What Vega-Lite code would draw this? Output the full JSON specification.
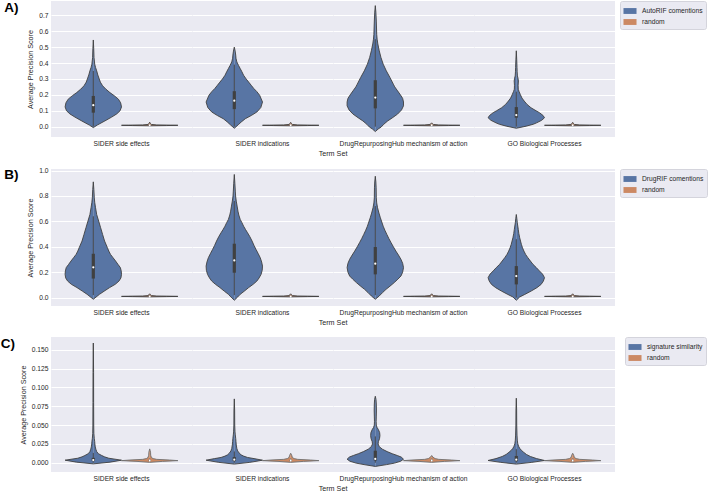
{
"$schema":"https://vega.github.io/schema/vega-lite/v6.json",
"padding":{"left":0,"top":0,"right":0,"bottom":0},
"spacing":9,
"datasets":{"rows":[
{"p":"A","k":"s","t":"SIDER side effects","g":"AutoRIF comentions","v":-0.006,"w":0},
{"p":"A","k":"s","t":"SIDER side effects","g":"AutoRIF comentions","v":0.01,"w":0.14},
{"p":"A","k":"s","t":"SIDER side effects","g":"AutoRIF comentions","v":0.036,"w":0.41},
{"p":"A","k":"s","t":"SIDER side effects","g":"AutoRIF comentions","v":0.06,"w":0.65},
{"p":"A","k":"s","t":"SIDER side effects","g":"AutoRIF comentions","v":0.08,"w":0.83},
{"p":"A","k":"s","t":"SIDER side effects","g":"AutoRIF comentions","v":0.1,"w":0.95},
{"p":"A","k":"s","t":"SIDER side effects","g":"AutoRIF comentions","v":0.124,"w":1.0},
{"p":"A","k":"s","t":"SIDER side effects","g":"AutoRIF comentions","v":0.15,"w":0.97},
{"p":"A","k":"s","t":"SIDER side effects","g":"AutoRIF comentions","v":0.173,"w":0.89},
{"p":"A","k":"s","t":"SIDER side effects","g":"AutoRIF comentions","v":0.195,"w":0.74},
{"p":"A","k":"s","t":"SIDER side effects","g":"AutoRIF comentions","v":0.214,"w":0.59},
{"p":"A","k":"s","t":"SIDER side effects","g":"AutoRIF comentions","v":0.235,"w":0.45},
{"p":"A","k":"s","t":"SIDER side effects","g":"AutoRIF comentions","v":0.257,"w":0.33},
{"p":"A","k":"s","t":"SIDER side effects","g":"AutoRIF comentions","v":0.28,"w":0.25},
{"p":"A","k":"s","t":"SIDER side effects","g":"AutoRIF comentions","v":0.3,"w":0.21},
{"p":"A","k":"s","t":"SIDER side effects","g":"AutoRIF comentions","v":0.325,"w":0.16},
{"p":"A","k":"s","t":"SIDER side effects","g":"AutoRIF comentions","v":0.351,"w":0.12},
{"p":"A","k":"s","t":"SIDER side effects","g":"AutoRIF comentions","v":0.372,"w":0.08},
{"p":"A","k":"s","t":"SIDER side effects","g":"AutoRIF comentions","v":0.393,"w":0.05},
{"p":"A","k":"s","t":"SIDER side effects","g":"AutoRIF comentions","v":0.435,"w":0.025},
{"p":"A","k":"s","t":"SIDER side effects","g":"AutoRIF comentions","v":0.49,"w":0.015},
{"p":"A","k":"s","t":"SIDER side effects","g":"AutoRIF comentions","v":0.545,"w":0},
{"p":"A","k":"s","t":"SIDER indications","g":"AutoRIF comentions","v":-0.01,"w":0},
{"p":"A","k":"s","t":"SIDER indications","g":"AutoRIF comentions","v":0.012,"w":0.14},
{"p":"A","k":"s","t":"SIDER indications","g":"AutoRIF comentions","v":0.03,"w":0.25},
{"p":"A","k":"s","t":"SIDER indications","g":"AutoRIF comentions","v":0.05,"w":0.39},
{"p":"A","k":"s","t":"SIDER indications","g":"AutoRIF comentions","v":0.07,"w":0.6},
{"p":"A","k":"s","t":"SIDER indications","g":"AutoRIF comentions","v":0.092,"w":0.8},
{"p":"A","k":"s","t":"SIDER indications","g":"AutoRIF comentions","v":0.12,"w":0.94},
{"p":"A","k":"s","t":"SIDER indications","g":"AutoRIF comentions","v":0.155,"w":1.0},
{"p":"A","k":"s","t":"SIDER indications","g":"AutoRIF comentions","v":0.197,"w":0.9},
{"p":"A","k":"s","t":"SIDER indications","g":"AutoRIF comentions","v":0.22,"w":0.8},
{"p":"A","k":"s","t":"SIDER indications","g":"AutoRIF comentions","v":0.24,"w":0.69},
{"p":"A","k":"s","t":"SIDER indications","g":"AutoRIF comentions","v":0.26,"w":0.6},
{"p":"A","k":"s","t":"SIDER indications","g":"AutoRIF comentions","v":0.28,"w":0.51},
{"p":"A","k":"s","t":"SIDER indications","g":"AutoRIF comentions","v":0.3,"w":0.42},
{"p":"A","k":"s","t":"SIDER indications","g":"AutoRIF comentions","v":0.323,"w":0.33},
{"p":"A","k":"s","t":"SIDER indications","g":"AutoRIF comentions","v":0.345,"w":0.27},
{"p":"A","k":"s","t":"SIDER indications","g":"AutoRIF comentions","v":0.365,"w":0.21},
{"p":"A","k":"s","t":"SIDER indications","g":"AutoRIF comentions","v":0.385,"w":0.15},
{"p":"A","k":"s","t":"SIDER indications","g":"AutoRIF comentions","v":0.407,"w":0.09},
{"p":"A","k":"s","t":"SIDER indications","g":"AutoRIF comentions","v":0.43,"w":0.06},
{"p":"A","k":"s","t":"SIDER indications","g":"AutoRIF comentions","v":0.45,"w":0.05},
{"p":"A","k":"s","t":"SIDER indications","g":"AutoRIF comentions","v":0.475,"w":0.03},
{"p":"A","k":"s","t":"SIDER indications","g":"AutoRIF comentions","v":0.5,"w":0},
{"p":"A","k":"s","t":"DrugRepurposingHub mechanism of action","g":"AutoRIF comentions","v":-0.031,"w":0},
{"p":"A","k":"s","t":"DrugRepurposingHub mechanism of action","g":"AutoRIF comentions","v":-0.015,"w":0.1},
{"p":"A","k":"s","t":"DrugRepurposingHub mechanism of action","g":"AutoRIF comentions","v":-0.002,"w":0.21},
{"p":"A","k":"s","t":"DrugRepurposingHub mechanism of action","g":"AutoRIF comentions","v":0.015,"w":0.3},
{"p":"A","k":"s","t":"DrugRepurposingHub mechanism of action","g":"AutoRIF comentions","v":0.036,"w":0.44},
{"p":"A","k":"s","t":"DrugRepurposingHub mechanism of action","g":"AutoRIF comentions","v":0.055,"w":0.6},
{"p":"A","k":"s","t":"DrugRepurposingHub mechanism of action","g":"AutoRIF comentions","v":0.079,"w":0.79},
{"p":"A","k":"s","t":"DrugRepurposingHub mechanism of action","g":"AutoRIF comentions","v":0.105,"w":0.93},
{"p":"A","k":"s","t":"DrugRepurposingHub mechanism of action","g":"AutoRIF comentions","v":0.131,"w":1.0},
{"p":"A","k":"s","t":"DrugRepurposingHub mechanism of action","g":"AutoRIF comentions","v":0.155,"w":1.0},
{"p":"A","k":"s","t":"DrugRepurposingHub mechanism of action","g":"AutoRIF comentions","v":0.178,"w":0.97},
{"p":"A","k":"s","t":"DrugRepurposingHub mechanism of action","g":"AutoRIF comentions","v":0.2,"w":0.89},
{"p":"A","k":"s","t":"DrugRepurposingHub mechanism of action","g":"AutoRIF comentions","v":0.225,"w":0.79},
{"p":"A","k":"s","t":"DrugRepurposingHub mechanism of action","g":"AutoRIF comentions","v":0.25,"w":0.69},
{"p":"A","k":"s","t":"DrugRepurposingHub mechanism of action","g":"AutoRIF comentions","v":0.267,"w":0.64},
{"p":"A","k":"s","t":"DrugRepurposingHub mechanism of action","g":"AutoRIF comentions","v":0.309,"w":0.52},
{"p":"A","k":"s","t":"DrugRepurposingHub mechanism of action","g":"AutoRIF comentions","v":0.351,"w":0.39},
{"p":"A","k":"s","t":"DrugRepurposingHub mechanism of action","g":"AutoRIF comentions","v":0.393,"w":0.28},
{"p":"A","k":"s","t":"DrugRepurposingHub mechanism of action","g":"AutoRIF comentions","v":0.435,"w":0.2},
{"p":"A","k":"s","t":"DrugRepurposingHub mechanism of action","g":"AutoRIF comentions","v":0.477,"w":0.14},
{"p":"A","k":"s","t":"DrugRepurposingHub mechanism of action","g":"AutoRIF comentions","v":0.52,"w":0.09},
{"p":"A","k":"s","t":"DrugRepurposingHub mechanism of action","g":"AutoRIF comentions","v":0.55,"w":0.065},
{"p":"A","k":"s","t":"DrugRepurposingHub mechanism of action","g":"AutoRIF comentions","v":0.58,"w":0.05},
{"p":"A","k":"s","t":"DrugRepurposingHub mechanism of action","g":"AutoRIF comentions","v":0.664,"w":0.035},
{"p":"A","k":"s","t":"DrugRepurposingHub mechanism of action","g":"AutoRIF comentions","v":0.72,"w":0.02},
{"p":"A","k":"s","t":"DrugRepurposingHub mechanism of action","g":"AutoRIF comentions","v":0.761,"w":0},
{"p":"A","k":"s","t":"GO Biological Processes","g":"AutoRIF comentions","v":-0.01,"w":0},
{"p":"A","k":"s","t":"GO Biological Processes","g":"AutoRIF comentions","v":0.003,"w":0.35},
{"p":"A","k":"s","t":"GO Biological Processes","g":"AutoRIF comentions","v":0.015,"w":0.6},
{"p":"A","k":"s","t":"GO Biological Processes","g":"AutoRIF comentions","v":0.024,"w":0.72},
{"p":"A","k":"s","t":"GO Biological Processes","g":"AutoRIF comentions","v":0.04,"w":0.9},
{"p":"A","k":"s","t":"GO Biological Processes","g":"AutoRIF comentions","v":0.056,"w":1.0},
{"p":"A","k":"s","t":"GO Biological Processes","g":"AutoRIF comentions","v":0.07,"w":0.95},
{"p":"A","k":"s","t":"GO Biological Processes","g":"AutoRIF comentions","v":0.088,"w":0.82},
{"p":"A","k":"s","t":"GO Biological Processes","g":"AutoRIF comentions","v":0.1,"w":0.7},
{"p":"A","k":"s","t":"GO Biological Processes","g":"AutoRIF comentions","v":0.119,"w":0.52},
{"p":"A","k":"s","t":"GO Biological Processes","g":"AutoRIF comentions","v":0.14,"w":0.38},
{"p":"A","k":"s","t":"GO Biological Processes","g":"AutoRIF comentions","v":0.161,"w":0.28},
{"p":"A","k":"s","t":"GO Biological Processes","g":"AutoRIF comentions","v":0.18,"w":0.2},
{"p":"A","k":"s","t":"GO Biological Processes","g":"AutoRIF comentions","v":0.203,"w":0.14},
{"p":"A","k":"s","t":"GO Biological Processes","g":"AutoRIF comentions","v":0.22,"w":0.1},
{"p":"A","k":"s","t":"GO Biological Processes","g":"AutoRIF comentions","v":0.235,"w":0.07},
{"p":"A","k":"s","t":"GO Biological Processes","g":"AutoRIF comentions","v":0.26,"w":0.065},
{"p":"A","k":"s","t":"GO Biological Processes","g":"AutoRIF comentions","v":0.287,"w":0.075},
{"p":"A","k":"s","t":"GO Biological Processes","g":"AutoRIF comentions","v":0.305,"w":0.06},
{"p":"A","k":"s","t":"GO Biological Processes","g":"AutoRIF comentions","v":0.319,"w":0.04},
{"p":"A","k":"s","t":"GO Biological Processes","g":"AutoRIF comentions","v":0.345,"w":0.03},
{"p":"A","k":"s","t":"GO Biological Processes","g":"AutoRIF comentions","v":0.372,"w":0.025},
{"p":"A","k":"s","t":"GO Biological Processes","g":"AutoRIF comentions","v":0.42,"w":0.015},
{"p":"A","k":"s","t":"GO Biological Processes","g":"AutoRIF comentions","v":0.477,"w":0},
{"p":"A","k":"s","t":"SIDER side effects","g":"random","v":0.0055,"w":0},
{"p":"A","k":"s","t":"SIDER side effects","g":"random","v":0.007,"w":0.6},
{"p":"A","k":"s","t":"SIDER side effects","g":"random","v":0.0085,"w":1.0},
{"p":"A","k":"s","t":"SIDER side effects","g":"random","v":0.0095,"w":0.75},
{"p":"A","k":"s","t":"SIDER side effects","g":"random","v":0.011,"w":0.25},
{"p":"A","k":"s","t":"SIDER side effects","g":"random","v":0.014,"w":0.06},
{"p":"A","k":"s","t":"SIDER side effects","g":"random","v":0.018,"w":0.03},
{"p":"A","k":"s","t":"SIDER side effects","g":"random","v":0.022,"w":0.02},
{"p":"A","k":"s","t":"SIDER side effects","g":"random","v":0.028,"w":0},
{"p":"A","k":"s","t":"SIDER indications","g":"random","v":0.0055,"w":0},
{"p":"A","k":"s","t":"SIDER indications","g":"random","v":0.007,"w":0.6},
{"p":"A","k":"s","t":"SIDER indications","g":"random","v":0.0085,"w":1.0},
{"p":"A","k":"s","t":"SIDER indications","g":"random","v":0.0095,"w":0.75},
{"p":"A","k":"s","t":"SIDER indications","g":"random","v":0.011,"w":0.25},
{"p":"A","k":"s","t":"SIDER indications","g":"random","v":0.014,"w":0.06},
{"p":"A","k":"s","t":"SIDER indications","g":"random","v":0.018,"w":0.03},
{"p":"A","k":"s","t":"SIDER indications","g":"random","v":0.022,"w":0.02},
{"p":"A","k":"s","t":"SIDER indications","g":"random","v":0.027,"w":0},
{"p":"A","k":"s","t":"DrugRepurposingHub mechanism of action","g":"random","v":0.0055,"w":0},
{"p":"A","k":"s","t":"DrugRepurposingHub mechanism of action","g":"random","v":0.007,"w":0.6},
{"p":"A","k":"s","t":"DrugRepurposingHub mechanism of action","g":"random","v":0.0085,"w":1.0},
{"p":"A","k":"s","t":"DrugRepurposingHub mechanism of action","g":"random","v":0.0095,"w":0.75},
{"p":"A","k":"s","t":"DrugRepurposingHub mechanism of action","g":"random","v":0.011,"w":0.25},
{"p":"A","k":"s","t":"DrugRepurposingHub mechanism of action","g":"random","v":0.014,"w":0.06},
{"p":"A","k":"s","t":"DrugRepurposingHub mechanism of action","g":"random","v":0.017,"w":0.03},
{"p":"A","k":"s","t":"DrugRepurposingHub mechanism of action","g":"random","v":0.02,"w":0.02},
{"p":"A","k":"s","t":"DrugRepurposingHub mechanism of action","g":"random","v":0.024,"w":0},
{"p":"A","k":"s","t":"GO Biological Processes","g":"random","v":0.0055,"w":0},
{"p":"A","k":"s","t":"GO Biological Processes","g":"random","v":0.007,"w":0.6},
{"p":"A","k":"s","t":"GO Biological Processes","g":"random","v":0.0085,"w":1.0},
{"p":"A","k":"s","t":"GO Biological Processes","g":"random","v":0.0095,"w":0.75},
{"p":"A","k":"s","t":"GO Biological Processes","g":"random","v":0.011,"w":0.25},
{"p":"A","k":"s","t":"GO Biological Processes","g":"random","v":0.014,"w":0.06},
{"p":"A","k":"s","t":"GO Biological Processes","g":"random","v":0.018,"w":0.03},
{"p":"A","k":"s","t":"GO Biological Processes","g":"random","v":0.022,"w":0.02},
{"p":"A","k":"s","t":"GO Biological Processes","g":"random","v":0.027,"w":0},
{"p":"A","k":"b","t":"SIDER side effects","g":"AutoRIF comentions","lo":0.0,"q1":0.088,"med":0.135,"q3":0.193,"hi":0.35},
{"p":"A","k":"b","t":"SIDER indications","g":"AutoRIF comentions","lo":0.0,"q1":0.11,"med":0.163,"q3":0.223,"hi":0.39},
{"p":"A","k":"b","t":"DrugRepurposingHub mechanism of action","g":"AutoRIF comentions","lo":0.0,"q1":0.115,"med":0.183,"q3":0.292,"hi":0.55},
{"p":"A","k":"b","t":"GO Biological Processes","g":"AutoRIF comentions","lo":0.0,"q1":0.056,"med":0.073,"q3":0.123,"hi":0.22},
{"p":"A","k":"b","t":"SIDER side effects","g":"random","lo":0.004,"q1":0.0075,"med":0.009,"q3":0.0105,"hi":0.016},
{"p":"A","k":"b","t":"SIDER indications","g":"random","lo":0.004,"q1":0.0075,"med":0.009,"q3":0.0105,"hi":0.016},
{"p":"A","k":"b","t":"DrugRepurposingHub mechanism of action","g":"random","lo":0.004,"q1":0.0075,"med":0.009,"q3":0.0105,"hi":0.015},
{"p":"A","k":"b","t":"GO Biological Processes","g":"random","lo":0.004,"q1":0.0075,"med":0.009,"q3":0.0105,"hi":0.016},

{"p":"B","k":"s","t":"SIDER side effects","g":"DrugRIF comentions","v":-0.013,"w":0},
{"p":"B","k":"s","t":"SIDER side effects","g":"DrugRIF comentions","v":0.026,"w":0.22},
{"p":"B","k":"s","t":"SIDER side effects","g":"DrugRIF comentions","v":0.05,"w":0.38},
{"p":"B","k":"s","t":"SIDER side effects","g":"DrugRIF comentions","v":0.079,"w":0.58},
{"p":"B","k":"s","t":"SIDER side effects","g":"DrugRIF comentions","v":0.105,"w":0.78},
{"p":"B","k":"s","t":"SIDER side effects","g":"DrugRIF comentions","v":0.13,"w":0.91},
{"p":"B","k":"s","t":"SIDER side effects","g":"DrugRIF comentions","v":0.155,"w":0.98},
{"p":"B","k":"s","t":"SIDER side effects","g":"DrugRIF comentions","v":0.183,"w":1.0},
{"p":"B","k":"s","t":"SIDER side effects","g":"DrugRIF comentions","v":0.21,"w":0.99},
{"p":"B","k":"s","t":"SIDER side effects","g":"DrugRIF comentions","v":0.236,"w":0.96},
{"p":"B","k":"s","t":"SIDER side effects","g":"DrugRIF comentions","v":0.26,"w":0.88},
{"p":"B","k":"s","t":"SIDER side effects","g":"DrugRIF comentions","v":0.288,"w":0.79},
{"p":"B","k":"s","t":"SIDER side effects","g":"DrugRIF comentions","v":0.314,"w":0.7},
{"p":"B","k":"s","t":"SIDER side effects","g":"DrugRIF comentions","v":0.34,"w":0.61},
{"p":"B","k":"s","t":"SIDER side effects","g":"DrugRIF comentions","v":0.366,"w":0.55},
{"p":"B","k":"s","t":"SIDER side effects","g":"DrugRIF comentions","v":0.393,"w":0.5},
{"p":"B","k":"s","t":"SIDER side effects","g":"DrugRIF comentions","v":0.445,"w":0.4},
{"p":"B","k":"s","t":"SIDER side effects","g":"DrugRIF comentions","v":0.497,"w":0.33},
{"p":"B","k":"s","t":"SIDER side effects","g":"DrugRIF comentions","v":0.55,"w":0.26},
{"p":"B","k":"s","t":"SIDER side effects","g":"DrugRIF comentions","v":0.602,"w":0.19},
{"p":"B","k":"s","t":"SIDER side effects","g":"DrugRIF comentions","v":0.654,"w":0.12},
{"p":"B","k":"s","t":"SIDER side effects","g":"DrugRIF comentions","v":0.707,"w":0.08},
{"p":"B","k":"s","t":"SIDER side effects","g":"DrugRIF comentions","v":0.75,"w":0.05},
{"p":"B","k":"s","t":"SIDER side effects","g":"DrugRIF comentions","v":0.785,"w":0.035},
{"p":"B","k":"s","t":"SIDER side effects","g":"DrugRIF comentions","v":0.85,"w":0.02},
{"p":"B","k":"s","t":"SIDER side effects","g":"DrugRIF comentions","v":0.911,"w":0},
{"p":"B","k":"s","t":"SIDER indications","g":"DrugRIF comentions","v":-0.021,"w":0},
{"p":"B","k":"s","t":"SIDER indications","g":"DrugRIF comentions","v":0.005,"w":0.12},
{"p":"B","k":"s","t":"SIDER indications","g":"DrugRIF comentions","v":0.026,"w":0.21},
{"p":"B","k":"s","t":"SIDER indications","g":"DrugRIF comentions","v":0.05,"w":0.35},
{"p":"B","k":"s","t":"SIDER indications","g":"DrugRIF comentions","v":0.079,"w":0.51},
{"p":"B","k":"s","t":"SIDER indications","g":"DrugRIF comentions","v":0.105,"w":0.67},
{"p":"B","k":"s","t":"SIDER indications","g":"DrugRIF comentions","v":0.13,"w":0.8},
{"p":"B","k":"s","t":"SIDER indications","g":"DrugRIF comentions","v":0.155,"w":0.88},
{"p":"B","k":"s","t":"SIDER indications","g":"DrugRIF comentions","v":0.183,"w":0.95},
{"p":"B","k":"s","t":"SIDER indications","g":"DrugRIF comentions","v":0.215,"w":0.99},
{"p":"B","k":"s","t":"SIDER indications","g":"DrugRIF comentions","v":0.248,"w":1.0},
{"p":"B","k":"s","t":"SIDER indications","g":"DrugRIF comentions","v":0.28,"w":0.97},
{"p":"B","k":"s","t":"SIDER indications","g":"DrugRIF comentions","v":0.314,"w":0.92},
{"p":"B","k":"s","t":"SIDER indications","g":"DrugRIF comentions","v":0.345,"w":0.85},
{"p":"B","k":"s","t":"SIDER indications","g":"DrugRIF comentions","v":0.379,"w":0.77},
{"p":"B","k":"s","t":"SIDER indications","g":"DrugRIF comentions","v":0.41,"w":0.7},
{"p":"B","k":"s","t":"SIDER indications","g":"DrugRIF comentions","v":0.445,"w":0.63},
{"p":"B","k":"s","t":"SIDER indications","g":"DrugRIF comentions","v":0.48,"w":0.55},
{"p":"B","k":"s","t":"SIDER indications","g":"DrugRIF comentions","v":0.51,"w":0.47},
{"p":"B","k":"s","t":"SIDER indications","g":"DrugRIF comentions","v":0.535,"w":0.4},
{"p":"B","k":"s","t":"SIDER indications","g":"DrugRIF comentions","v":0.562,"w":0.33},
{"p":"B","k":"s","t":"SIDER indications","g":"DrugRIF comentions","v":0.59,"w":0.27},
{"p":"B","k":"s","t":"SIDER indications","g":"DrugRIF comentions","v":0.615,"w":0.21},
{"p":"B","k":"s","t":"SIDER indications","g":"DrugRIF comentions","v":0.65,"w":0.16},
{"p":"B","k":"s","t":"SIDER indications","g":"DrugRIF comentions","v":0.68,"w":0.13},
{"p":"B","k":"s","t":"SIDER indications","g":"DrugRIF comentions","v":0.72,"w":0.1},
{"p":"B","k":"s","t":"SIDER indications","g":"DrugRIF comentions","v":0.759,"w":0.07},
{"p":"B","k":"s","t":"SIDER indications","g":"DrugRIF comentions","v":0.8,"w":0.045},
{"p":"B","k":"s","t":"SIDER indications","g":"DrugRIF comentions","v":0.838,"w":0.035},
{"p":"B","k":"s","t":"SIDER indications","g":"DrugRIF comentions","v":0.9,"w":0.02},
{"p":"B","k":"s","t":"SIDER indications","g":"DrugRIF comentions","v":0.969,"w":0},
{"p":"B","k":"s","t":"DrugRepurposingHub mechanism of action","g":"DrugRIF comentions","v":-0.013,"w":0},
{"p":"B","k":"s","t":"DrugRepurposingHub mechanism of action","g":"DrugRIF comentions","v":0.013,"w":0.14},
{"p":"B","k":"s","t":"DrugRepurposingHub mechanism of action","g":"DrugRIF comentions","v":0.04,"w":0.26},
{"p":"B","k":"s","t":"DrugRepurposingHub mechanism of action","g":"DrugRIF comentions","v":0.065,"w":0.38},
{"p":"B","k":"s","t":"DrugRepurposingHub mechanism of action","g":"DrugRIF comentions","v":0.09,"w":0.52},
{"p":"B","k":"s","t":"DrugRepurposingHub mechanism of action","g":"DrugRIF comentions","v":0.118,"w":0.67},
{"p":"B","k":"s","t":"DrugRepurposingHub mechanism of action","g":"DrugRIF comentions","v":0.145,"w":0.8},
{"p":"B","k":"s","t":"DrugRepurposingHub mechanism of action","g":"DrugRIF comentions","v":0.17,"w":0.91},
{"p":"B","k":"s","t":"DrugRepurposingHub mechanism of action","g":"DrugRIF comentions","v":0.2,"w":0.97},
{"p":"B","k":"s","t":"DrugRepurposingHub mechanism of action","g":"DrugRIF comentions","v":0.236,"w":1.0},
{"p":"B","k":"s","t":"DrugRepurposingHub mechanism of action","g":"DrugRIF comentions","v":0.27,"w":0.97},
{"p":"B","k":"s","t":"DrugRepurposingHub mechanism of action","g":"DrugRIF comentions","v":0.301,"w":0.91},
{"p":"B","k":"s","t":"DrugRepurposingHub mechanism of action","g":"DrugRIF comentions","v":0.335,"w":0.82},
{"p":"B","k":"s","t":"DrugRepurposingHub mechanism of action","g":"DrugRIF comentions","v":0.366,"w":0.73},
{"p":"B","k":"s","t":"DrugRepurposingHub mechanism of action","g":"DrugRIF comentions","v":0.4,"w":0.64},
{"p":"B","k":"s","t":"DrugRepurposingHub mechanism of action","g":"DrugRIF comentions","v":0.432,"w":0.56},
{"p":"B","k":"s","t":"DrugRepurposingHub mechanism of action","g":"DrugRIF comentions","v":0.465,"w":0.48},
{"p":"B","k":"s","t":"DrugRepurposingHub mechanism of action","g":"DrugRIF comentions","v":0.497,"w":0.41},
{"p":"B","k":"s","t":"DrugRepurposingHub mechanism of action","g":"DrugRIF comentions","v":0.53,"w":0.34},
{"p":"B","k":"s","t":"DrugRepurposingHub mechanism of action","g":"DrugRIF comentions","v":0.562,"w":0.28},
{"p":"B","k":"s","t":"DrugRepurposingHub mechanism of action","g":"DrugRIF comentions","v":0.595,"w":0.23},
{"p":"B","k":"s","t":"DrugRepurposingHub mechanism of action","g":"DrugRIF comentions","v":0.628,"w":0.18},
{"p":"B","k":"s","t":"DrugRepurposingHub mechanism of action","g":"DrugRIF comentions","v":0.665,"w":0.13},
{"p":"B","k":"s","t":"DrugRepurposingHub mechanism of action","g":"DrugRIF comentions","v":0.707,"w":0.08},
{"p":"B","k":"s","t":"DrugRepurposingHub mechanism of action","g":"DrugRIF comentions","v":0.745,"w":0.05},
{"p":"B","k":"s","t":"DrugRepurposingHub mechanism of action","g":"DrugRIF comentions","v":0.785,"w":0.035},
{"p":"B","k":"s","t":"DrugRepurposingHub mechanism of action","g":"DrugRIF comentions","v":0.864,"w":0.03},
{"p":"B","k":"s","t":"DrugRepurposingHub mechanism of action","g":"DrugRIF comentions","v":0.91,"w":0.02},
{"p":"B","k":"s","t":"DrugRepurposingHub mechanism of action","g":"DrugRIF comentions","v":0.955,"w":0},
{"p":"B","k":"s","t":"GO Biological Processes","g":"DrugRIF comentions","v":-0.021,"w":0},
{"p":"B","k":"s","t":"GO Biological Processes","g":"DrugRIF comentions","v":0.005,"w":0.12},
{"p":"B","k":"s","t":"GO Biological Processes","g":"DrugRIF comentions","v":0.025,"w":0.3},
{"p":"B","k":"s","t":"GO Biological Processes","g":"DrugRIF comentions","v":0.052,"w":0.53},
{"p":"B","k":"s","t":"GO Biological Processes","g":"DrugRIF comentions","v":0.078,"w":0.73},
{"p":"B","k":"s","t":"GO Biological Processes","g":"DrugRIF comentions","v":0.104,"w":0.88},
{"p":"B","k":"s","t":"GO Biological Processes","g":"DrugRIF comentions","v":0.13,"w":0.96},
{"p":"B","k":"s","t":"GO Biological Processes","g":"DrugRIF comentions","v":0.157,"w":1.0},
{"p":"B","k":"s","t":"GO Biological Processes","g":"DrugRIF comentions","v":0.185,"w":0.93},
{"p":"B","k":"s","t":"GO Biological Processes","g":"DrugRIF comentions","v":0.21,"w":0.82},
{"p":"B","k":"s","t":"GO Biological Processes","g":"DrugRIF comentions","v":0.236,"w":0.71},
{"p":"B","k":"s","t":"GO Biological Processes","g":"DrugRIF comentions","v":0.262,"w":0.59},
{"p":"B","k":"s","t":"GO Biological Processes","g":"DrugRIF comentions","v":0.288,"w":0.5},
{"p":"B","k":"s","t":"GO Biological Processes","g":"DrugRIF comentions","v":0.314,"w":0.41},
{"p":"B","k":"s","t":"GO Biological Processes","g":"DrugRIF comentions","v":0.34,"w":0.33},
{"p":"B","k":"s","t":"GO Biological Processes","g":"DrugRIF comentions","v":0.366,"w":0.27},
{"p":"B","k":"s","t":"GO Biological Processes","g":"DrugRIF comentions","v":0.392,"w":0.22},
{"p":"B","k":"s","t":"GO Biological Processes","g":"DrugRIF comentions","v":0.419,"w":0.18},
{"p":"B","k":"s","t":"GO Biological Processes","g":"DrugRIF comentions","v":0.445,"w":0.15},
{"p":"B","k":"s","t":"GO Biological Processes","g":"DrugRIF comentions","v":0.471,"w":0.12},
{"p":"B","k":"s","t":"GO Biological Processes","g":"DrugRIF comentions","v":0.505,"w":0.09},
{"p":"B","k":"s","t":"GO Biological Processes","g":"DrugRIF comentions","v":0.537,"w":0.07},
{"p":"B","k":"s","t":"GO Biological Processes","g":"DrugRIF comentions","v":0.589,"w":0.035},
{"p":"B","k":"s","t":"GO Biological Processes","g":"DrugRIF comentions","v":0.62,"w":0.02},
{"p":"B","k":"s","t":"GO Biological Processes","g":"DrugRIF comentions","v":0.654,"w":0},
{"p":"B","k":"s","t":"SIDER side effects","g":"random","v":0.006,"w":0},
{"p":"B","k":"s","t":"SIDER side effects","g":"random","v":0.008,"w":0.6},
{"p":"B","k":"s","t":"SIDER side effects","g":"random","v":0.0095,"w":1.0},
{"p":"B","k":"s","t":"SIDER side effects","g":"random","v":0.011,"w":0.75},
{"p":"B","k":"s","t":"SIDER side effects","g":"random","v":0.0125,"w":0.25},
{"p":"B","k":"s","t":"SIDER side effects","g":"random","v":0.016,"w":0.06},
{"p":"B","k":"s","t":"SIDER side effects","g":"random","v":0.02,"w":0.03},
{"p":"B","k":"s","t":"SIDER side effects","g":"random","v":0.025,"w":0.02},
{"p":"B","k":"s","t":"SIDER side effects","g":"random","v":0.03,"w":0},
{"p":"B","k":"s","t":"SIDER indications","g":"random","v":0.006,"w":0},
{"p":"B","k":"s","t":"SIDER indications","g":"random","v":0.008,"w":0.6},
{"p":"B","k":"s","t":"SIDER indications","g":"random","v":0.0095,"w":1.0},
{"p":"B","k":"s","t":"SIDER indications","g":"random","v":0.011,"w":0.75},
{"p":"B","k":"s","t":"SIDER indications","g":"random","v":0.0125,"w":0.25},
{"p":"B","k":"s","t":"SIDER indications","g":"random","v":0.016,"w":0.06},
{"p":"B","k":"s","t":"SIDER indications","g":"random","v":0.02,"w":0.03},
{"p":"B","k":"s","t":"SIDER indications","g":"random","v":0.025,"w":0.02},
{"p":"B","k":"s","t":"SIDER indications","g":"random","v":0.03,"w":0},
{"p":"B","k":"s","t":"DrugRepurposingHub mechanism of action","g":"random","v":0.006,"w":0},
{"p":"B","k":"s","t":"DrugRepurposingHub mechanism of action","g":"random","v":0.008,"w":0.6},
{"p":"B","k":"s","t":"DrugRepurposingHub mechanism of action","g":"random","v":0.0095,"w":1.0},
{"p":"B","k":"s","t":"DrugRepurposingHub mechanism of action","g":"random","v":0.011,"w":0.75},
{"p":"B","k":"s","t":"DrugRepurposingHub mechanism of action","g":"random","v":0.0125,"w":0.25},
{"p":"B","k":"s","t":"DrugRepurposingHub mechanism of action","g":"random","v":0.016,"w":0.06},
{"p":"B","k":"s","t":"DrugRepurposingHub mechanism of action","g":"random","v":0.02,"w":0.03},
{"p":"B","k":"s","t":"DrugRepurposingHub mechanism of action","g":"random","v":0.025,"w":0.02},
{"p":"B","k":"s","t":"DrugRepurposingHub mechanism of action","g":"random","v":0.03,"w":0},
{"p":"B","k":"s","t":"GO Biological Processes","g":"random","v":0.006,"w":0},
{"p":"B","k":"s","t":"GO Biological Processes","g":"random","v":0.008,"w":0.6},
{"p":"B","k":"s","t":"GO Biological Processes","g":"random","v":0.0095,"w":1.0},
{"p":"B","k":"s","t":"GO Biological Processes","g":"random","v":0.011,"w":0.75},
{"p":"B","k":"s","t":"GO Biological Processes","g":"random","v":0.0125,"w":0.25},
{"p":"B","k":"s","t":"GO Biological Processes","g":"random","v":0.016,"w":0.06},
{"p":"B","k":"s","t":"GO Biological Processes","g":"random","v":0.02,"w":0.03},
{"p":"B","k":"s","t":"GO Biological Processes","g":"random","v":0.025,"w":0.02},
{"p":"B","k":"s","t":"GO Biological Processes","g":"random","v":0.03,"w":0},
{"p":"B","k":"b","t":"SIDER side effects","g":"DrugRIF comentions","lo":0.02,"q1":0.15,"med":0.238,"q3":0.345,"hi":0.64},
{"p":"B","k":"b","t":"SIDER indications","g":"DrugRIF comentions","lo":0.02,"q1":0.196,"med":0.293,"q3":0.424,"hi":0.76},
{"p":"B","k":"b","t":"DrugRepurposingHub mechanism of action","g":"DrugRIF comentions","lo":0.02,"q1":0.183,"med":0.267,"q3":0.398,"hi":0.72},
{"p":"B","k":"b","t":"GO Biological Processes","g":"DrugRIF comentions","lo":0.0,"q1":0.104,"med":0.17,"q3":0.248,"hi":0.46},
{"p":"B","k":"b","t":"SIDER side effects","g":"random","lo":0.005,"q1":0.008,"med":0.0095,"q3":0.011,"hi":0.018},
{"p":"B","k":"b","t":"SIDER indications","g":"random","lo":0.005,"q1":0.008,"med":0.0095,"q3":0.011,"hi":0.018},
{"p":"B","k":"b","t":"DrugRepurposingHub mechanism of action","g":"random","lo":0.005,"q1":0.008,"med":0.0095,"q3":0.011,"hi":0.018},
{"p":"B","k":"b","t":"GO Biological Processes","g":"random","lo":0.005,"q1":0.008,"med":0.0095,"q3":0.011,"hi":0.018},

{"p":"C","k":"s","t":"SIDER side effects","g":"signature similarity","v":-0.0015,"w":0},
{"p":"C","k":"s","t":"SIDER side effects","g":"signature similarity","v":0.0008,"w":0.6},
{"p":"C","k":"s","t":"SIDER side effects","g":"signature similarity","v":0.0034,"w":1.0},
{"p":"C","k":"s","t":"SIDER side effects","g":"signature similarity","v":0.006,"w":0.55},
{"p":"C","k":"s","t":"SIDER side effects","g":"signature similarity","v":0.0078,"w":0.4},
{"p":"C","k":"s","t":"SIDER side effects","g":"signature similarity","v":0.0096,"w":0.3},
{"p":"C","k":"s","t":"SIDER side effects","g":"signature similarity","v":0.012,"w":0.18},
{"p":"C","k":"s","t":"SIDER side effects","g":"signature similarity","v":0.0148,"w":0.12},
{"p":"C","k":"s","t":"SIDER side effects","g":"signature similarity","v":0.018,"w":0.09},
{"p":"C","k":"s","t":"SIDER side effects","g":"signature similarity","v":0.021,"w":0.07},
{"p":"C","k":"s","t":"SIDER side effects","g":"signature similarity","v":0.025,"w":0.055},
{"p":"C","k":"s","t":"SIDER side effects","g":"signature similarity","v":0.028,"w":0.05},
{"p":"C","k":"s","t":"SIDER side effects","g":"signature similarity","v":0.032,"w":0.035},
{"p":"C","k":"s","t":"SIDER side effects","g":"signature similarity","v":0.039,"w":0.02},
{"p":"C","k":"s","t":"SIDER side effects","g":"signature similarity","v":0.05,"w":0.015},
{"p":"C","k":"s","t":"SIDER side effects","g":"signature similarity","v":0.08,"w":0.012},
{"p":"C","k":"s","t":"SIDER side effects","g":"signature similarity","v":0.12,"w":0.01},
{"p":"C","k":"s","t":"SIDER side effects","g":"signature similarity","v":0.159,"w":0},
{"p":"C","k":"s","t":"SIDER indications","g":"signature similarity","v":-0.0018,"w":0},
{"p":"C","k":"s","t":"SIDER indications","g":"signature similarity","v":0.0005,"w":0.55},
{"p":"C","k":"s","t":"SIDER indications","g":"signature similarity","v":0.0034,"w":1.0},
{"p":"C","k":"s","t":"SIDER indications","g":"signature similarity","v":0.0055,"w":0.7},
{"p":"C","k":"s","t":"SIDER indications","g":"signature similarity","v":0.007,"w":0.47},
{"p":"C","k":"s","t":"SIDER indications","g":"signature similarity","v":0.0088,"w":0.33},
{"p":"C","k":"s","t":"SIDER indications","g":"signature similarity","v":0.0105,"w":0.24},
{"p":"C","k":"s","t":"SIDER indications","g":"signature similarity","v":0.013,"w":0.17},
{"p":"C","k":"s","t":"SIDER indications","g":"signature similarity","v":0.0157,"w":0.12},
{"p":"C","k":"s","t":"SIDER indications","g":"signature similarity","v":0.019,"w":0.09},
{"p":"C","k":"s","t":"SIDER indications","g":"signature similarity","v":0.0236,"w":0.07},
{"p":"C","k":"s","t":"SIDER indications","g":"signature similarity","v":0.028,"w":0.06},
{"p":"C","k":"s","t":"SIDER indications","g":"signature similarity","v":0.0323,"w":0.05},
{"p":"C","k":"s","t":"SIDER indications","g":"signature similarity","v":0.037,"w":0.035},
{"p":"C","k":"s","t":"SIDER indications","g":"signature similarity","v":0.041,"w":0.025},
{"p":"C","k":"s","t":"SIDER indications","g":"signature similarity","v":0.05,"w":0.015},
{"p":"C","k":"s","t":"SIDER indications","g":"signature similarity","v":0.07,"w":0.012},
{"p":"C","k":"s","t":"SIDER indications","g":"signature similarity","v":0.0848,"w":0},
{"p":"C","k":"s","t":"DrugRepurposingHub mechanism of action","g":"signature similarity","v":-0.0049,"w":0},
{"p":"C","k":"s","t":"DrugRepurposingHub mechanism of action","g":"signature similarity","v":-0.0025,"w":0.4},
{"p":"C","k":"s","t":"DrugRepurposingHub mechanism of action","g":"signature similarity","v":-0.0005,"w":0.68},
{"p":"C","k":"s","t":"DrugRepurposingHub mechanism of action","g":"signature similarity","v":0.002,"w":0.9},
{"p":"C","k":"s","t":"DrugRepurposingHub mechanism of action","g":"signature similarity","v":0.0047,"w":1.0},
{"p":"C","k":"s","t":"DrugRepurposingHub mechanism of action","g":"signature similarity","v":0.0075,"w":0.92},
{"p":"C","k":"s","t":"DrugRepurposingHub mechanism of action","g":"signature similarity","v":0.0096,"w":0.78},
{"p":"C","k":"s","t":"DrugRepurposingHub mechanism of action","g":"signature similarity","v":0.012,"w":0.6},
{"p":"C","k":"s","t":"DrugRepurposingHub mechanism of action","g":"signature similarity","v":0.0148,"w":0.42},
{"p":"C","k":"s","t":"DrugRepurposingHub mechanism of action","g":"signature similarity","v":0.018,"w":0.25},
{"p":"C","k":"s","t":"DrugRepurposingHub mechanism of action","g":"signature similarity","v":0.0214,"w":0.14},
{"p":"C","k":"s","t":"DrugRepurposingHub mechanism of action","g":"signature similarity","v":0.025,"w":0.1},
{"p":"C","k":"s","t":"DrugRepurposingHub mechanism of action","g":"signature similarity","v":0.028,"w":0.11},
{"p":"C","k":"s","t":"DrugRepurposingHub mechanism of action","g":"signature similarity","v":0.032,"w":0.15},
{"p":"C","k":"s","t":"DrugRepurposingHub mechanism of action","g":"signature similarity","v":0.036,"w":0.165},
{"p":"C","k":"s","t":"DrugRepurposingHub mechanism of action","g":"signature similarity","v":0.04,"w":0.155},
{"p":"C","k":"s","t":"DrugRepurposingHub mechanism of action","g":"signature similarity","v":0.044,"w":0.11},
{"p":"C","k":"s","t":"DrugRepurposingHub mechanism of action","g":"signature similarity","v":0.047,"w":0.06},
{"p":"C","k":"s","t":"DrugRepurposingHub mechanism of action","g":"signature similarity","v":0.05,"w":0.035},
{"p":"C","k":"s","t":"DrugRepurposingHub mechanism of action","g":"signature similarity","v":0.055,"w":0.03},
{"p":"C","k":"s","t":"DrugRepurposingHub mechanism of action","g":"signature similarity","v":0.062,"w":0.035},
{"p":"C","k":"s","t":"DrugRepurposingHub mechanism of action","g":"signature similarity","v":0.07,"w":0.04},
{"p":"C","k":"s","t":"DrugRepurposingHub mechanism of action","g":"signature similarity","v":0.078,"w":0.035},
{"p":"C","k":"s","t":"DrugRepurposingHub mechanism of action","g":"signature similarity","v":0.084,"w":0.025},
{"p":"C","k":"s","t":"DrugRepurposingHub mechanism of action","g":"signature similarity","v":0.0883,"w":0},
{"p":"C","k":"s","t":"GO Biological Processes","g":"signature similarity","v":-0.0018,"w":0},
{"p":"C","k":"s","t":"GO Biological Processes","g":"signature similarity","v":0.0005,"w":0.55},
{"p":"C","k":"s","t":"GO Biological Processes","g":"signature similarity","v":0.003,"w":1.0},
{"p":"C","k":"s","t":"GO Biological Processes","g":"signature similarity","v":0.0055,"w":0.72},
{"p":"C","k":"s","t":"GO Biological Processes","g":"signature similarity","v":0.0083,"w":0.5},
{"p":"C","k":"s","t":"GO Biological Processes","g":"signature similarity","v":0.011,"w":0.36},
{"p":"C","k":"s","t":"GO Biological Processes","g":"signature similarity","v":0.0139,"w":0.26},
{"p":"C","k":"s","t":"GO Biological Processes","g":"signature similarity","v":0.0165,"w":0.18},
{"p":"C","k":"s","t":"GO Biological Processes","g":"signature similarity","v":0.0192,"w":0.12},
{"p":"C","k":"s","t":"GO Biological Processes","g":"signature similarity","v":0.022,"w":0.08},
{"p":"C","k":"s","t":"GO Biological Processes","g":"signature similarity","v":0.0257,"w":0.05},
{"p":"C","k":"s","t":"GO Biological Processes","g":"signature similarity","v":0.03,"w":0.035},
{"p":"C","k":"s","t":"GO Biological Processes","g":"signature similarity","v":0.0367,"w":0.025},
{"p":"C","k":"s","t":"GO Biological Processes","g":"signature similarity","v":0.05,"w":0.015},
{"p":"C","k":"s","t":"GO Biological Processes","g":"signature similarity","v":0.07,"w":0.012},
{"p":"C","k":"s","t":"GO Biological Processes","g":"signature similarity","v":0.0857,"w":0},
{"p":"C","k":"s","t":"SIDER side effects","g":"random","v":0.0005,"w":0},
{"p":"C","k":"s","t":"SIDER side effects","g":"random","v":0.0018,"w":0.45},
{"p":"C","k":"s","t":"SIDER side effects","g":"random","v":0.0028,"w":1.0},
{"p":"C","k":"s","t":"SIDER side effects","g":"random","v":0.0036,"w":0.7},
{"p":"C","k":"s","t":"SIDER side effects","g":"random","v":0.0045,"w":0.25},
{"p":"C","k":"s","t":"SIDER side effects","g":"random","v":0.0055,"w":0.12},
{"p":"C","k":"s","t":"SIDER side effects","g":"random","v":0.007,"w":0.06},
{"p":"C","k":"s","t":"SIDER side effects","g":"random","v":0.01,"w":0.035},
{"p":"C","k":"s","t":"SIDER side effects","g":"random","v":0.014,"w":0.03},
{"p":"C","k":"s","t":"SIDER side effects","g":"random","v":0.0184,"w":0},
{"p":"C","k":"s","t":"SIDER indications","g":"random","v":0.0005,"w":0},
{"p":"C","k":"s","t":"SIDER indications","g":"random","v":0.0018,"w":0.45},
{"p":"C","k":"s","t":"SIDER indications","g":"random","v":0.0028,"w":1.0},
{"p":"C","k":"s","t":"SIDER indications","g":"random","v":0.0036,"w":0.7},
{"p":"C","k":"s","t":"SIDER indications","g":"random","v":0.0045,"w":0.25},
{"p":"C","k":"s","t":"SIDER indications","g":"random","v":0.0055,"w":0.12},
{"p":"C","k":"s","t":"SIDER indications","g":"random","v":0.007,"w":0.06},
{"p":"C","k":"s","t":"SIDER indications","g":"random","v":0.01,"w":0.035},
{"p":"C","k":"s","t":"SIDER indications","g":"random","v":0.0126,"w":0},
{"p":"C","k":"s","t":"DrugRepurposingHub mechanism of action","g":"random","v":0.0005,"w":0},
{"p":"C","k":"s","t":"DrugRepurposingHub mechanism of action","g":"random","v":0.0018,"w":0.45},
{"p":"C","k":"s","t":"DrugRepurposingHub mechanism of action","g":"random","v":0.0028,"w":1.0},
{"p":"C","k":"s","t":"DrugRepurposingHub mechanism of action","g":"random","v":0.0036,"w":0.7},
{"p":"C","k":"s","t":"DrugRepurposingHub mechanism of action","g":"random","v":0.0045,"w":0.25},
{"p":"C","k":"s","t":"DrugRepurposingHub mechanism of action","g":"random","v":0.0055,"w":0.12},
{"p":"C","k":"s","t":"DrugRepurposingHub mechanism of action","g":"random","v":0.0075,"w":0.04},
{"p":"C","k":"s","t":"DrugRepurposingHub mechanism of action","g":"random","v":0.0096,"w":0},
{"p":"C","k":"s","t":"GO Biological Processes","g":"random","v":0.0005,"w":0},
{"p":"C","k":"s","t":"GO Biological Processes","g":"random","v":0.0018,"w":0.45},
{"p":"C","k":"s","t":"GO Biological Processes","g":"random","v":0.0028,"w":1.0},
{"p":"C","k":"s","t":"GO Biological Processes","g":"random","v":0.0036,"w":0.7},
{"p":"C","k":"s","t":"GO Biological Processes","g":"random","v":0.0045,"w":0.25},
{"p":"C","k":"s","t":"GO Biological Processes","g":"random","v":0.0055,"w":0.12},
{"p":"C","k":"s","t":"GO Biological Processes","g":"random","v":0.007,"w":0.06},
{"p":"C","k":"s","t":"GO Biological Processes","g":"random","v":0.01,"w":0.035},
{"p":"C","k":"s","t":"GO Biological Processes","g":"random","v":0.0126,"w":0},
{"p":"C","k":"b","t":"SIDER side effects","g":"signature similarity","lo":0.0,"q1":0.0022,"med":0.0035,"q3":0.0065,"hi":0.013},
{"p":"C","k":"b","t":"SIDER indications","g":"signature similarity","lo":0.0,"q1":0.0022,"med":0.004,"q3":0.0075,"hi":0.015},
{"p":"C","k":"b","t":"DrugRepurposingHub mechanism of action","g":"signature similarity","lo":0.0,"q1":0.003,"med":0.005,"q3":0.016,"hi":0.035},
{"p":"C","k":"b","t":"GO Biological Processes","g":"signature similarity","lo":0.0,"q1":0.002,"med":0.004,"q3":0.009,"hi":0.018},
{"p":"C","k":"b","t":"SIDER side effects","g":"random","lo":0.0015,"q1":0.0022,"med":0.003,"q3":0.0038,"hi":0.006},
{"p":"C","k":"b","t":"SIDER indications","g":"random","lo":0.0015,"q1":0.0022,"med":0.003,"q3":0.0038,"hi":0.006},
{"p":"C","k":"b","t":"DrugRepurposingHub mechanism of action","g":"random","lo":0.0015,"q1":0.0022,"med":0.003,"q3":0.0038,"hi":0.006},
{"p":"C","k":"b","t":"GO Biological Processes","g":"random","lo":0.0015,"q1":0.0022,"med":0.003,"q3":0.0038,"hi":0.006}
]},
"vconcat":[
{
 "data":{"name":"rows"},
 "transform":[{"filter":"datum.p=='A'"}],
 "title":{"text":"A)","orient":"left","anchor":"end","angle":0,"align":"right","baseline":"top","offset":-6},
 "facet":{"column":{"field":"t","type":"nominal","sort":["SIDER side effects","SIDER indications","DrugRepurposingHub mechanism of action","GO Biological Processes"],"title":"Term Set","header":{"labelOrient":"bottom","titleOrient":"bottom","titlePadding":-8}}},
 "spacing":{"column":0},
 "spec":{"width":141,"height":136,"resolve":{"scale":{"x":"independent"}},"layer":[
  {"transform":[{"filter":"datum.k=='s' && datum.g!='random'"}],"mark":{"type":"area","orient":"horizontal","opacity":1},"encoding":{
    "y":{"field":"v","type":"quantitative","scale":{"domain":[-0.065,0.79],"nice":false,"zero":false},"axis":{"title":"Average Precision Score","values":[0,0.1,0.2,0.3,0.4,0.5,0.6,0.7],"format":".1f"}},
    "x":{"field":"w","type":"quantitative","scale":{"domain":[-1.5,3.5],"nice":false},"axis":null},"x2":{"datum":0},
    "color":{"field":"g","type":"nominal","scale":{"domain":["AutoRIF comentions","random"],"range":["#5875a4","#cc8963"]},"legend":{"title":null}}}},
  {"transform":[{"filter":"datum.k=='s' && datum.g!='random'"}],"mark":{"type":"area","orient":"horizontal","opacity":1},"encoding":{
    "y":{"field":"v","type":"quantitative","axis":{"title":"Average Precision Score","values":[0,0.1,0.2,0.3,0.4,0.5,0.6,0.7],"format":".1f"}},
    "x":{"field":"w","type":"quantitative","scale":{"domain":[-3.5,1.5],"nice":false,"reverse":true},"axis":null},"x2":{"datum":0},
    "color":{"field":"g","type":"nominal","legend":{"title":null}}}},
  {"transform":[{"filter":"datum.k=='s' && datum.g=='random'"}],"mark":{"type":"area","orient":"horizontal","opacity":1},"encoding":{
    "y":{"field":"v","type":"quantitative","axis":{"title":"Average Precision Score","values":[0,0.1,0.2,0.3,0.4,0.5,0.6,0.7],"format":".1f"}},
    "x":{"field":"w","type":"quantitative","scale":{"domain":[-3.5,1.5],"nice":false},"axis":null},"x2":{"datum":0},
    "color":{"field":"g","type":"nominal","legend":{"title":null}}}},
  {"transform":[{"filter":"datum.k=='s' && datum.g=='random'"}],"mark":{"type":"area","orient":"horizontal","opacity":1},"encoding":{
    "y":{"field":"v","type":"quantitative","axis":{"title":"Average Precision Score","values":[0,0.1,0.2,0.3,0.4,0.5,0.6,0.7],"format":".1f"}},
    "x":{"field":"w","type":"quantitative","scale":{"domain":[-1.5,3.5],"nice":false,"reverse":true},"axis":null},"x2":{"datum":0},
    "color":{"field":"g","type":"nominal","legend":{"title":null}}}},
  {"transform":[{"filter":"datum.k=='s' && datum.g!='random'"}],"mark":{"type":"line","color":"#404040","strokeWidth":0.9},"encoding":{
    "y":{"field":"v","type":"quantitative","axis":{"title":"Average Precision Score","values":[0,0.1,0.2,0.3,0.4,0.5,0.6,0.7],"format":".1f"}},"order":{"field":"v","type":"quantitative"},
    "x":{"field":"w","type":"quantitative","scale":{"domain":[-1.5,3.5],"nice":false},"axis":null}}},
  {"transform":[{"filter":"datum.k=='s' && datum.g!='random'"}],"mark":{"type":"line","color":"#404040","strokeWidth":0.9},"encoding":{
    "y":{"field":"v","type":"quantitative","axis":{"title":"Average Precision Score","values":[0,0.1,0.2,0.3,0.4,0.5,0.6,0.7],"format":".1f"}},"order":{"field":"v","type":"quantitative"},
    "x":{"field":"w","type":"quantitative","scale":{"domain":[-3.5,1.5],"nice":false,"reverse":true},"axis":null}}},
  {"transform":[{"filter":"datum.k=='s' && datum.g=='random'"}],"mark":{"type":"line","color":"#404040","strokeWidth":0.9},"encoding":{
    "y":{"field":"v","type":"quantitative","axis":{"title":"Average Precision Score","values":[0,0.1,0.2,0.3,0.4,0.5,0.6,0.7],"format":".1f"}},"order":{"field":"v","type":"quantitative"},
    "x":{"field":"w","type":"quantitative","scale":{"domain":[-3.5,1.5],"nice":false},"axis":null}}},
  {"transform":[{"filter":"datum.k=='s' && datum.g=='random'"}],"mark":{"type":"line","color":"#404040","strokeWidth":0.9},"encoding":{
    "y":{"field":"v","type":"quantitative","axis":{"title":"Average Precision Score","values":[0,0.1,0.2,0.3,0.4,0.5,0.6,0.7],"format":".1f"}},"order":{"field":"v","type":"quantitative"},
    "x":{"field":"w","type":"quantitative","scale":{"domain":[-1.5,3.5],"nice":false,"reverse":true},"axis":null}}},
  {"transform":[{"filter":"datum.k=='b' && datum.g!='random'"}],"mark":{"type":"rule","color":"#404040","strokeWidth":0.9},"encoding":{
    "y":{"field":"lo","type":"quantitative","axis":{"title":"Average Precision Score","values":[0,0.1,0.2,0.3,0.4,0.5,0.6,0.7],"format":".1f"}},"y2":{"field":"hi"},
    "x":{"datum":0,"type":"quantitative","scale":{"domain":[-1.5,3.5],"nice":false},"axis":null}}},
  {"transform":[{"filter":"datum.k=='b' && datum.g!='random'"}],"mark":{"type":"rule","color":"#404040","strokeWidth":3.2},"encoding":{
    "y":{"field":"q1","type":"quantitative","axis":{"title":"Average Precision Score","values":[0,0.1,0.2,0.3,0.4,0.5,0.6,0.7],"format":".1f"}},"y2":{"field":"q3"},
    "x":{"datum":0,"type":"quantitative","scale":{"domain":[-1.5,3.5],"nice":false},"axis":null}}},
  {"transform":[{"filter":"datum.k=='b' && datum.g!='random'"}],"mark":{"type":"point","filled":true,"color":"#ffffff","size":5,"opacity":1},"encoding":{
    "y":{"field":"med","type":"quantitative","axis":{"title":"Average Precision Score","values":[0,0.1,0.2,0.3,0.4,0.5,0.6,0.7],"format":".1f"}},
    "x":{"datum":0,"type":"quantitative","scale":{"domain":[-1.5,3.5],"nice":false},"axis":null}}},
  {"transform":[{"filter":"datum.k=='b' && datum.g=='random'"}],"mark":{"type":"rule","color":"#404040","strokeWidth":0.9},"encoding":{
    "y":{"field":"lo","type":"quantitative","axis":{"title":"Average Precision Score","values":[0,0.1,0.2,0.3,0.4,0.5,0.6,0.7],"format":".1f"}},"y2":{"field":"hi"},
    "x":{"datum":0,"type":"quantitative","scale":{"domain":[-3.5,1.5],"nice":false},"axis":null}}},
  {"transform":[{"filter":"datum.k=='b' && datum.g=='random'"}],"mark":{"type":"rule","color":"#404040","strokeWidth":2.5},"encoding":{
    "y":{"field":"q1","type":"quantitative","axis":{"title":"Average Precision Score","values":[0,0.1,0.2,0.3,0.4,0.5,0.6,0.7],"format":".1f"}},"y2":{"field":"q3"},
    "x":{"datum":0,"type":"quantitative","scale":{"domain":[-3.5,1.5],"nice":false},"axis":null}}},
  {"transform":[{"filter":"datum.k=='b' && datum.g=='random'"}],"mark":{"type":"point","filled":true,"color":"#ffffff","size":4,"opacity":1},"encoding":{
    "y":{"field":"med","type":"quantitative","axis":{"title":"Average Precision Score","values":[0,0.1,0.2,0.3,0.4,0.5,0.6,0.7],"format":".1f"}},
    "x":{"datum":0,"type":"quantitative","scale":{"domain":[-3.5,1.5],"nice":false},"axis":null}}}
 ]}
},
{
 "data":{"name":"rows"},
 "transform":[{"filter":"datum.p=='B'"}],
 "title":{"text":"B)","orient":"left","anchor":"end","angle":0,"align":"right","baseline":"top","offset":-6},
 "facet":{"column":{"field":"t","type":"nominal","sort":["SIDER side effects","SIDER indications","DrugRepurposingHub mechanism of action","GO Biological Processes"],"title":"Term Set","header":{"labelOrient":"bottom","titleOrient":"bottom","titlePadding":-8}}},
 "spacing":{"column":0},
 "spec":{"width":141,"height":137,"resolve":{"scale":{"x":"independent"}},"layer":[
  {"transform":[{"filter":"datum.k=='s' && datum.g!='random'"}],"mark":{"type":"area","orient":"horizontal","opacity":1},"encoding":{
    "y":{"field":"v","type":"quantitative","scale":{"domain":[-0.066,1.012],"nice":false,"zero":false},"axis":{"title":"Average Precision Score","values":[0,0.2,0.4,0.6,0.8,1.0],"format":".1f"}},
    "x":{"field":"w","type":"quantitative","scale":{"domain":[-1.5,3.5],"nice":false},"axis":null},"x2":{"datum":0},
    "color":{"field":"g","type":"nominal","scale":{"domain":["DrugRIF comentions","random"],"range":["#5875a4","#cc8963"]},"legend":{"title":null}}}},
  {"transform":[{"filter":"datum.k=='s' && datum.g!='random'"}],"mark":{"type":"area","orient":"horizontal","opacity":1},"encoding":{
    "y":{"field":"v","type":"quantitative","axis":{"title":"Average Precision Score","values":[0,0.2,0.4,0.6,0.8,1.0],"format":".1f"}},
    "x":{"field":"w","type":"quantitative","scale":{"domain":[-3.5,1.5],"nice":false,"reverse":true},"axis":null},"x2":{"datum":0},
    "color":{"field":"g","type":"nominal","legend":{"title":null}}}},
  {"transform":[{"filter":"datum.k=='s' && datum.g=='random'"}],"mark":{"type":"area","orient":"horizontal","opacity":1},"encoding":{
    "y":{"field":"v","type":"quantitative","axis":{"title":"Average Precision Score","values":[0,0.2,0.4,0.6,0.8,1.0],"format":".1f"}},
    "x":{"field":"w","type":"quantitative","scale":{"domain":[-3.5,1.5],"nice":false},"axis":null},"x2":{"datum":0},
    "color":{"field":"g","type":"nominal","legend":{"title":null}}}},
  {"transform":[{"filter":"datum.k=='s' && datum.g=='random'"}],"mark":{"type":"area","orient":"horizontal","opacity":1},"encoding":{
    "y":{"field":"v","type":"quantitative","axis":{"title":"Average Precision Score","values":[0,0.2,0.4,0.6,0.8,1.0],"format":".1f"}},
    "x":{"field":"w","type":"quantitative","scale":{"domain":[-1.5,3.5],"nice":false,"reverse":true},"axis":null},"x2":{"datum":0},
    "color":{"field":"g","type":"nominal","legend":{"title":null}}}},
  {"transform":[{"filter":"datum.k=='s' && datum.g!='random'"}],"mark":{"type":"line","color":"#404040","strokeWidth":0.9},"encoding":{
    "y":{"field":"v","type":"quantitative","axis":{"title":"Average Precision Score","values":[0,0.2,0.4,0.6,0.8,1.0],"format":".1f"}},"order":{"field":"v","type":"quantitative"},
    "x":{"field":"w","type":"quantitative","scale":{"domain":[-1.5,3.5],"nice":false},"axis":null}}},
  {"transform":[{"filter":"datum.k=='s' && datum.g!='random'"}],"mark":{"type":"line","color":"#404040","strokeWidth":0.9},"encoding":{
    "y":{"field":"v","type":"quantitative","axis":{"title":"Average Precision Score","values":[0,0.2,0.4,0.6,0.8,1.0],"format":".1f"}},"order":{"field":"v","type":"quantitative"},
    "x":{"field":"w","type":"quantitative","scale":{"domain":[-3.5,1.5],"nice":false,"reverse":true},"axis":null}}},
  {"transform":[{"filter":"datum.k=='s' && datum.g=='random'"}],"mark":{"type":"line","color":"#404040","strokeWidth":0.9},"encoding":{
    "y":{"field":"v","type":"quantitative","axis":{"title":"Average Precision Score","values":[0,0.2,0.4,0.6,0.8,1.0],"format":".1f"}},"order":{"field":"v","type":"quantitative"},
    "x":{"field":"w","type":"quantitative","scale":{"domain":[-3.5,1.5],"nice":false},"axis":null}}},
  {"transform":[{"filter":"datum.k=='s' && datum.g=='random'"}],"mark":{"type":"line","color":"#404040","strokeWidth":0.9},"encoding":{
    "y":{"field":"v","type":"quantitative","axis":{"title":"Average Precision Score","values":[0,0.2,0.4,0.6,0.8,1.0],"format":".1f"}},"order":{"field":"v","type":"quantitative"},
    "x":{"field":"w","type":"quantitative","scale":{"domain":[-1.5,3.5],"nice":false,"reverse":true},"axis":null}}},
  {"transform":[{"filter":"datum.k=='b' && datum.g!='random'"}],"mark":{"type":"rule","color":"#404040","strokeWidth":0.9},"encoding":{
    "y":{"field":"lo","type":"quantitative","axis":{"title":"Average Precision Score","values":[0,0.2,0.4,0.6,0.8,1.0],"format":".1f"}},"y2":{"field":"hi"},
    "x":{"datum":0,"type":"quantitative","scale":{"domain":[-1.5,3.5],"nice":false},"axis":null}}},
  {"transform":[{"filter":"datum.k=='b' && datum.g!='random'"}],"mark":{"type":"rule","color":"#404040","strokeWidth":3.2},"encoding":{
    "y":{"field":"q1","type":"quantitative","axis":{"title":"Average Precision Score","values":[0,0.2,0.4,0.6,0.8,1.0],"format":".1f"}},"y2":{"field":"q3"},
    "x":{"datum":0,"type":"quantitative","scale":{"domain":[-1.5,3.5],"nice":false},"axis":null}}},
  {"transform":[{"filter":"datum.k=='b' && datum.g!='random'"}],"mark":{"type":"point","filled":true,"color":"#ffffff","size":5,"opacity":1},"encoding":{
    "y":{"field":"med","type":"quantitative","axis":{"title":"Average Precision Score","values":[0,0.2,0.4,0.6,0.8,1.0],"format":".1f"}},
    "x":{"datum":0,"type":"quantitative","scale":{"domain":[-1.5,3.5],"nice":false},"axis":null}}},
  {"transform":[{"filter":"datum.k=='b' && datum.g=='random'"}],"mark":{"type":"rule","color":"#404040","strokeWidth":0.9},"encoding":{
    "y":{"field":"lo","type":"quantitative","axis":{"title":"Average Precision Score","values":[0,0.2,0.4,0.6,0.8,1.0],"format":".1f"}},"y2":{"field":"hi"},
    "x":{"datum":0,"type":"quantitative","scale":{"domain":[-3.5,1.5],"nice":false},"axis":null}}},
  {"transform":[{"filter":"datum.k=='b' && datum.g=='random'"}],"mark":{"type":"rule","color":"#404040","strokeWidth":2.5},"encoding":{
    "y":{"field":"q1","type":"quantitative","axis":{"title":"Average Precision Score","values":[0,0.2,0.4,0.6,0.8,1.0],"format":".1f"}},"y2":{"field":"q3"},
    "x":{"datum":0,"type":"quantitative","scale":{"domain":[-3.5,1.5],"nice":false},"axis":null}}},
  {"transform":[{"filter":"datum.k=='b' && datum.g=='random'"}],"mark":{"type":"point","filled":true,"color":"#ffffff","size":4,"opacity":1},"encoding":{
    "y":{"field":"med","type":"quantitative","axis":{"title":"Average Precision Score","values":[0,0.2,0.4,0.6,0.8,1.0],"format":".1f"}},
    "x":{"datum":0,"type":"quantitative","scale":{"domain":[-3.5,1.5],"nice":false},"axis":null}}}
 ]}
},
{
 "data":{"name":"rows"},
 "transform":[{"filter":"datum.p=='C'"}],
 "title":{"text":"C)","orient":"left","anchor":"end","angle":0,"align":"right","baseline":"top","offset":-10},
 "facet":{"column":{"field":"t","type":"nominal","sort":["SIDER side effects","SIDER indications","DrugRepurposingHub mechanism of action","GO Biological Processes"],"title":"Term Set","header":{"labelOrient":"bottom","titleOrient":"bottom","titlePadding":-8}}},
 "spacing":{"column":0},
 "spec":{"width":141,"height":135,"resolve":{"scale":{"x":"independent"}},"layer":[
  {"transform":[{"filter":"datum.k=='s' && datum.g!='random'"}],"mark":{"type":"area","orient":"horizontal","opacity":1},"encoding":{
    "y":{"field":"v","type":"quantitative","scale":{"domain":[-0.0123,0.167],"nice":false,"zero":false},"axis":{"title":"Average Precision Score","values":[0,0.025,0.05,0.075,0.1,0.125,0.15],"format":".3f"}},
    "x":{"field":"w","type":"quantitative","scale":{"domain":[-1.5,3.5],"nice":false},"axis":null},"x2":{"datum":0},
    "color":{"field":"g","type":"nominal","scale":{"domain":["signature similarity","random"],"range":["#5875a4","#cc8963"]},"legend":{"title":null,"offset":10}}}},
  {"transform":[{"filter":"datum.k=='s' && datum.g!='random'"}],"mark":{"type":"area","orient":"horizontal","opacity":1},"encoding":{
    "y":{"field":"v","type":"quantitative","axis":{"title":"Average Precision Score","values":[0,0.025,0.05,0.075,0.1,0.125,0.15],"format":".3f"}},
    "x":{"field":"w","type":"quantitative","scale":{"domain":[-3.5,1.5],"nice":false,"reverse":true},"axis":null},"x2":{"datum":0},
    "color":{"field":"g","type":"nominal","legend":{"title":null,"offset":10}}}},
  {"transform":[{"filter":"datum.k=='s' && datum.g=='random'"}],"mark":{"type":"area","orient":"horizontal","opacity":1},"encoding":{
    "y":{"field":"v","type":"quantitative","axis":{"title":"Average Precision Score","values":[0,0.025,0.05,0.075,0.1,0.125,0.15],"format":".3f"}},
    "x":{"field":"w","type":"quantitative","scale":{"domain":[-3.5,1.5],"nice":false},"axis":null},"x2":{"datum":0},
    "color":{"field":"g","type":"nominal","legend":{"title":null,"offset":10}}}},
  {"transform":[{"filter":"datum.k=='s' && datum.g=='random'"}],"mark":{"type":"area","orient":"horizontal","opacity":1},"encoding":{
    "y":{"field":"v","type":"quantitative","axis":{"title":"Average Precision Score","values":[0,0.025,0.05,0.075,0.1,0.125,0.15],"format":".3f"}},
    "x":{"field":"w","type":"quantitative","scale":{"domain":[-1.5,3.5],"nice":false,"reverse":true},"axis":null},"x2":{"datum":0},
    "color":{"field":"g","type":"nominal","legend":{"title":null,"offset":10}}}},
  {"transform":[{"filter":"datum.k=='s' && datum.g!='random'"}],"mark":{"type":"line","color":"#404040","strokeWidth":0.9},"encoding":{
    "y":{"field":"v","type":"quantitative","axis":{"title":"Average Precision Score","values":[0,0.025,0.05,0.075,0.1,0.125,0.15],"format":".3f"}},"order":{"field":"v","type":"quantitative"},
    "x":{"field":"w","type":"quantitative","scale":{"domain":[-1.5,3.5],"nice":false},"axis":null}}},
  {"transform":[{"filter":"datum.k=='s' && datum.g!='random'"}],"mark":{"type":"line","color":"#404040","strokeWidth":0.9},"encoding":{
    "y":{"field":"v","type":"quantitative","axis":{"title":"Average Precision Score","values":[0,0.025,0.05,0.075,0.1,0.125,0.15],"format":".3f"}},"order":{"field":"v","type":"quantitative"},
    "x":{"field":"w","type":"quantitative","scale":{"domain":[-3.5,1.5],"nice":false,"reverse":true},"axis":null}}},
  {"transform":[{"filter":"datum.k=='s' && datum.g=='random'"}],"mark":{"type":"line","color":"#707070","strokeWidth":0.9},"encoding":{
    "y":{"field":"v","type":"quantitative","axis":{"title":"Average Precision Score","values":[0,0.025,0.05,0.075,0.1,0.125,0.15],"format":".3f"}},"order":{"field":"v","type":"quantitative"},
    "x":{"field":"w","type":"quantitative","scale":{"domain":[-3.5,1.5],"nice":false},"axis":null}}},
  {"transform":[{"filter":"datum.k=='s' && datum.g=='random'"}],"mark":{"type":"line","color":"#707070","strokeWidth":0.9},"encoding":{
    "y":{"field":"v","type":"quantitative","axis":{"title":"Average Precision Score","values":[0,0.025,0.05,0.075,0.1,0.125,0.15],"format":".3f"}},"order":{"field":"v","type":"quantitative"},
    "x":{"field":"w","type":"quantitative","scale":{"domain":[-1.5,3.5],"nice":false,"reverse":true},"axis":null}}},
  {"transform":[{"filter":"datum.k=='b' && datum.g!='random'"}],"mark":{"type":"rule","color":"#404040","strokeWidth":0.9},"encoding":{
    "y":{"field":"lo","type":"quantitative","axis":{"title":"Average Precision Score","values":[0,0.025,0.05,0.075,0.1,0.125,0.15],"format":".3f"}},"y2":{"field":"hi"},
    "x":{"datum":0,"type":"quantitative","scale":{"domain":[-1.5,3.5],"nice":false},"axis":null}}},
  {"transform":[{"filter":"datum.k=='b' && datum.g!='random'"}],"mark":{"type":"rule","color":"#404040","strokeWidth":3.2},"encoding":{
    "y":{"field":"q1","type":"quantitative","axis":{"title":"Average Precision Score","values":[0,0.025,0.05,0.075,0.1,0.125,0.15],"format":".3f"}},"y2":{"field":"q3"},
    "x":{"datum":0,"type":"quantitative","scale":{"domain":[-1.5,3.5],"nice":false},"axis":null}}},
  {"transform":[{"filter":"datum.k=='b' && datum.g!='random'"}],"mark":{"type":"point","filled":true,"color":"#ffffff","size":5,"opacity":1},"encoding":{
    "y":{"field":"med","type":"quantitative","axis":{"title":"Average Precision Score","values":[0,0.025,0.05,0.075,0.1,0.125,0.15],"format":".3f"}},
    "x":{"datum":0,"type":"quantitative","scale":{"domain":[-1.5,3.5],"nice":false},"axis":null}}},
  {"transform":[{"filter":"datum.k=='b' && datum.g=='random'"}],"mark":{"type":"rule","color":"#707070","strokeWidth":0.9},"encoding":{
    "y":{"field":"lo","type":"quantitative","axis":{"title":"Average Precision Score","values":[0,0.025,0.05,0.075,0.1,0.125,0.15],"format":".3f"}},"y2":{"field":"hi"},
    "x":{"datum":0,"type":"quantitative","scale":{"domain":[-3.5,1.5],"nice":false},"axis":null}}},
  {"transform":[{"filter":"datum.k=='b' && datum.g=='random'"}],"mark":{"type":"rule","color":"#404040","strokeWidth":2.5},"encoding":{
    "y":{"field":"q1","type":"quantitative","axis":{"title":"Average Precision Score","values":[0,0.025,0.05,0.075,0.1,0.125,0.15],"format":".3f"}},"y2":{"field":"q3"},
    "x":{"datum":0,"type":"quantitative","scale":{"domain":[-3.5,1.5],"nice":false},"axis":null}}},
  {"transform":[{"filter":"datum.k=='b' && datum.g=='random'"}],"mark":{"type":"point","filled":true,"color":"#ffffff","size":4,"opacity":1},"encoding":{
    "y":{"field":"med","type":"quantitative","axis":{"title":"Average Precision Score","values":[0,0.025,0.05,0.075,0.1,0.125,0.15],"format":".3f"}},
    "x":{"datum":0,"type":"quantitative","scale":{"domain":[-3.5,1.5],"nice":false},"axis":null}}}
 ]}
}
],
"resolve":{"scale":{"color":"independent","y":"independent","x":"independent"},"legend":{"color":"independent"}},
"config":{
 "font":"Liberation Sans",
 "view":{"fill":"#EAEAF2","stroke":null},
 "axis":{"grid":true,"gridColor":"#ffffff","gridWidth":1,"domain":false,"ticks":false,"labelOverlap":false,"labelFontSize":6.7,"labelColor":"#262626","labelPadding":3,"titleFontSize":7.2,"titleFontWeight":"normal","titleColor":"#262626","titlePadding":4},
 "header":{"labelFontSize":6.7,"labelColor":"#262626","labelPadding":4,"titleFontSize":7.2,"titleFontWeight":"normal","titleColor":"#262626","titlePadding":2},
 "legend":{"orient":"right","offset":5,"labelFontSize":6.7,"labelColor":"#262626","symbolType":"M-1,-0.45H1V0.45H-1Z","symbolSize":170,"symbolStrokeWidth":0,"symbolOpacity":1,"padding":3,"rowPadding":0,"labelOffset":5,"fillColor":"#EAEAF2","strokeColor":"#d4d4dc","cornerRadius":2},
 "title":{"fontSize":13.5,"fontWeight":"bold","color":"#000000"}
}
}
